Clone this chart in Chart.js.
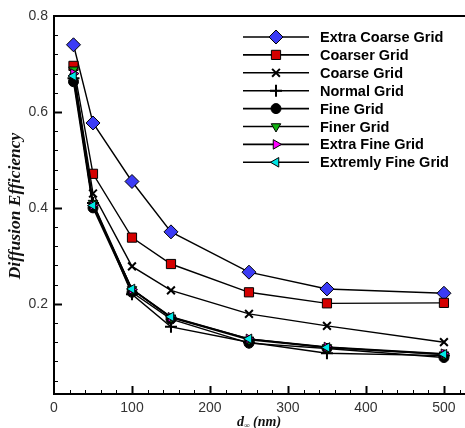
<!DOCTYPE html>
<html>
<head>
<meta charset="utf-8">
<script src="https://cdn.jsdelivr.net/npm/chart.js@4.4.1/dist/chart.umd.min.js"></script>
<style>
  html, body { margin: 0; padding: 0; background: #fff; overflow: hidden; }
  canvas { display: block; }
</style>
</head>
<body>
<canvas id="chart" width="465" height="428"></canvas>
<script>
// grid diameters d (nm) and efficiency
const diameters = [25, 50, 100, 150, 250, 350, 500];
const extraCoarse = [0.740, 0.577, 0.455, 0.350, 0.266, 0.231, 0.222];
const coarser = [0.696, 0.471, 0.338, 0.283, 0.224, 0.201, 0.202];
const coarse = [0.685, 0.430, 0.278, 0.228, 0.179, 0.154, 0.120];
const normal = [0.670, 0.410, 0.220, 0.152, 0.120, 0.097, 0.092];
const fine = [0.663, 0.400, 0.224, 0.168, 0.118, 0.107, 0.088];
const finer = [0.688, 0.410, 0.230, 0.171, 0.125, 0.109, 0.094];
const extraFine = [0.680, 0.405, 0.230, 0.172, 0.127, 0.110, 0.096];
const extremlyFine = [0.675, 0.405, 0.231, 0.173, 0.127, 0.109, 0.095];

const seriesNames = ['Extra Coarse Grid', 'Coarser Grid', 'Coarse Grid', 'Normal Grid',
    'Fine Grid', 'Finer Grid', 'Extra Fine Grid', 'Extremly Fine Grid'];

const xTicks = [0, 100, 200, 300, 400, 500];
const yTicks = [0.2, 0.4, 0.6, 0.8];

function series(name, values, style) {
    return Object.assign({
        label: name,
        data: values.map((v, i) => ({ x: diameters[i], y: v })),
        borderColor: '#000',
        borderWidth: 1.4,
        pointBorderColor: '#000',
        pointBorderWidth: 1,
        pointHoverRadius: 6,
        tension: 0
    }, style);
}

const datasets = [
    series(seriesNames[0], extraCoarse, { pointStyle: 'rectRot', pointRadius: 7, pointBackgroundColor: '#3b3bf5' }),
    series(seriesNames[1], coarser, { pointStyle: 'rect', pointRadius: 6.5, pointBackgroundColor: '#d40000' }),
    series(seriesNames[2], coarse, { pointStyle: 'crossRot', pointRadius: 5.5, pointBorderWidth: 2, pointBackgroundColor: '#000' }),
    series(seriesNames[3], normal, { pointStyle: 'cross', pointRadius: 6, pointBorderWidth: 2, pointBackgroundColor: '#000' }),
    series(seriesNames[4], fine, { pointStyle: 'circle', pointRadius: 5, pointBackgroundColor: '#000' }),
    series(seriesNames[5], finer, { pointStyle: 'triangle', pointRotation: 180, pointRadius: 5.5, pointBackgroundColor: '#12b312' }),
    series(seriesNames[6], extraFine, { pointStyle: 'triangle', pointRotation: 90, pointRadius: 5.5, pointBackgroundColor: '#ff00ff' }),
    series(seriesNames[7], extremlyFine, { pointStyle: 'triangle', pointRotation: -90, pointRadius: 5.5, pointBackgroundColor: '#00e6e6' })
];
// later series sit on top, like the original
datasets.forEach((d, i) => { d.order = datasets.length - i; });

const framePlugin = {
    id: 'frame',
    afterDraw(chart) {
        const ctx = chart.ctx;
        const area = chart.chartArea;
        const xs = chart.scales.x;
        const ys = chart.scales.y;

        ctx.save();
        ctx.strokeStyle = '#000';

        // top edge of the frame
        ctx.lineWidth = 2;
        ctx.beginPath();
        ctx.moveTo(area.left - 1, area.top);
        ctx.lineTo(area.right, area.top);
        ctx.stroke();

        // inward ticks, minor every 20 nm / 0.04
        for (let i = 1; i * 20 <= xs.max; i++) {
            const v = i * 20;
            const px = Math.round(xs.getPixelForValue(v)) + 0.5;
            const major = v % 100 === 0;
            ctx.lineWidth = major ? 2 : 1;
            ctx.beginPath();
            ctx.moveTo(px, area.bottom);
            ctx.lineTo(px, area.bottom - (major ? 8 : 4));
            ctx.stroke();
        }
        for (let i = 1; i < 20; i++) {
            const v = i * 0.04;
            if (v < ys.min) continue;
            const py = Math.round(ys.getPixelForValue(v)) + 0.5;
            const major = i % 5 === 0;
            ctx.lineWidth = major ? 2 : 1;
            ctx.beginPath();
            ctx.moveTo(area.left, py);
            ctx.lineTo(area.left + (major ? 8 : 4), py);
            ctx.stroke();
        }

        // legend
        const legX0 = 243, legX1 = 309, legMid = 276, legText = 320;
        ctx.font = 'bold 14.5px "Liberation Sans", Arial, sans-serif';
        ctx.textBaseline = 'middle';
        ctx.textAlign = 'left';
        chart.data.datasets.forEach((d, i) => {
            const y = 37 + i * 17.9;
            ctx.strokeStyle = '#000';
            ctx.lineWidth = 1.6;
            ctx.beginPath();
            ctx.moveTo(legX0, y);
            ctx.lineTo(legX1, y);
            ctx.stroke();
            ctx.fillStyle = d.pointBackgroundColor;
            ctx.lineWidth = d.pointBorderWidth;
            Chart.helpers.drawPoint(ctx, {
                pointStyle: d.pointStyle,
                rotation: d.pointRotation || 0,
                radius: d.pointRadius,
                borderWidth: d.pointBorderWidth
            }, legMid, y);
            ctx.fillStyle = '#000';
            ctx.fillText(d.label, legText, y + 1);
        });

        // axis titles
        ctx.fillStyle = '#111';
        ctx.font = 'bold italic 17.5px "Liberation Serif", "Times New Roman", serif';
        ctx.textAlign = 'center';
        ctx.textBaseline = 'middle';
        ctx.save();
        ctx.translate(15, 206);
        ctx.rotate(-Math.PI / 2);
        ctx.fillText('Diffusion Efficiency', 0, 0);
        ctx.restore();

        ctx.textBaseline = 'alphabetic';
        ctx.textAlign = 'left';
        const big = 'bold italic 14px "Liberation Serif", "Times New Roman", serif';
        const small = 'bold italic 8px "Liberation Serif", "Times New Roman", serif';
        ctx.font = big;
        const wD = ctx.measureText('d').width;
        const wRest = ctx.measureText(' (nm)').width;
        ctx.font = small;
        const wSub = ctx.measureText('\u221e').width;
        let tx = 259 - (wD + wSub + wRest) / 2;
        const base = 426;
        ctx.font = big;
        ctx.fillText('d', tx, base);
        tx += wD;
        ctx.font = small;
        ctx.fillText('\u221e', tx, base + 2);
        tx += wSub;
        ctx.font = big;
        ctx.fillText(' (nm)', tx, base);

        ctx.restore();
    }
};

new Chart(document.getElementById('chart'), {
    type: 'line',
    data: { datasets: datasets },
    options: {
        responsive: false,
        animation: false,
        layout: { autoPadding: false, padding: { top: 16, right: 0, left: 0, bottom: 0 } },
        plugins: {
            legend: { display: false },
            tooltip: { enabled: false }
        },
        scales: {
            x: {
                type: 'linear',
                min: 0,
                max: 527,
                grid: { display: false, drawTicks: false },
                border: { display: true, color: '#000', width: 2 },
                afterBuildTicks: (scale) => { scale.ticks = xTicks.map(v => ({ value: v })); },
                afterFit: (scale) => { scale.height = 34; },
                ticks: {
                    padding: 6,
                    color: '#333',
                    maxRotation: 0,
                    font: { family: '"Liberation Sans", Arial, sans-serif', size: 14 }
                }
            },
            y: {
                type: 'linear',
                min: 0.012,
                max: 0.8,
                grid: { display: false, drawTicks: false },
                border: { display: true, color: '#000', width: 2 },
                afterBuildTicks: (scale) => { scale.ticks = yTicks.map(v => ({ value: v })); },
                afterFit: (scale) => { scale.width = 54; },
                ticks: {
                    padding: 6,
                    color: '#333',
                    callback: (v) => v.toFixed(1),
                    font: { family: '"Liberation Sans", Arial, sans-serif', size: 14 }
                }
            }
        }
    },
    plugins: [framePlugin]
});
</script>
</body>
</html>
